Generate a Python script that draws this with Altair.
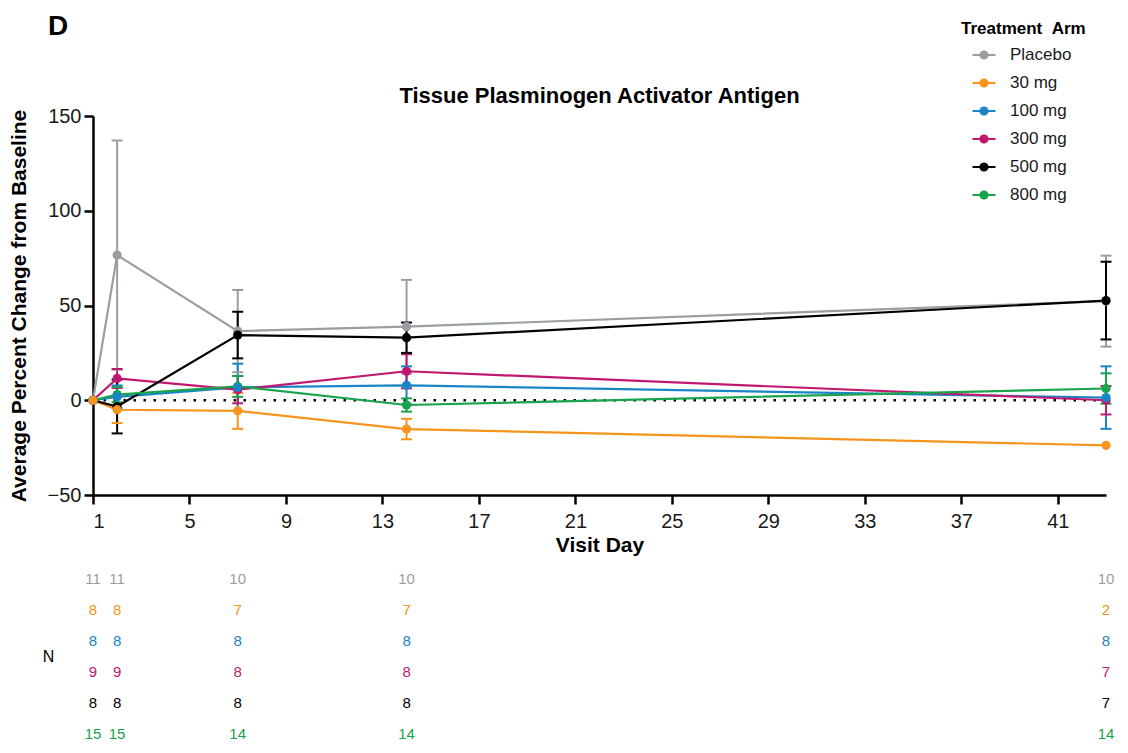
import altair as alt
import pandas as pd

# ---------------- data ----------------
days = [1, 2, 7, 14, 43]
arms = ["Placebo", "30 mg", "100 mg", "300 mg", "500 mg", "800 mg"]
arm_colors = ["#9a9ea2", "#f7941d", "#1a85c6", "#c0186e", "#000000", "#18a34c"]
draw_rank = [0, 5, 4, 3, 2, 1]  # Placebo drawn first, 30 mg last

mean_placebo = [0, 76.6, 36.5, 38.8, 52.3]
err_placebo = [0, 60.5, 21.7, 24.7, 24.0]
mean_30 = [0, -5.0, -5.6, -15.2, -23.8]
err_30 = [0, 7.0, 9.5, 5.4, 0]
mean_100 = [0, 1.8, 6.8, 7.9, 1.4]
err_100 = [0, 6.0, 12.5, 10.0, 16.5]
mean_300 = [0, 11.5, 5.6, 15.3, 0.0]
err_300 = [0, 5.0, 7.2, 9.0, 7.5]
mean_500 = [0, -3.3, 34.4, 33.0, 52.6]
err_500 = [0, 14.2, 12.3, 8.0, 20.5]
mean_800 = [0, 3.0, 7.3, -2.5, 6.2]
err_800 = [0, 4.0, 5.5, 3.5, 8.0]

n_placebo = [11, 11, 10, 10, 10]
n_30 = [8, 8, 7, 7, 2]
n_100 = [8, 8, 8, 8, 8]
n_300 = [9, 9, 8, 8, 7]
n_500 = [8, 8, 8, 8, 7]
n_800 = [15, 15, 14, 14, 14]

x_ticks = [1, 5, 9, 13, 17, 21, 25, 29, 33, 37, 41]
y_ticks = [-50, 0, 50, 100, 150]

means = [mean_placebo, mean_30, mean_100, mean_300, mean_500, mean_800]
errs = [err_placebo, err_30, err_100, err_300, err_500, err_800]
ns = [n_placebo, n_30, n_100, n_300, n_500, n_800]

rows, caps, nrows = [], [], []
for arm, rank, m, e, n in zip(arms, draw_rank, means, errs, ns):
    for d, mv, ev, nv in zip(days, m, e, n):
        rows.append({"arm": arm, "rank": rank, "day": d, "mean": mv,
                     "lo": mv - ev, "hi": mv + ev, "err": ev})
        if ev > 0:
            caps.append({"arm": arm, "rank": rank, "day": d, "cap": mv - ev})
            caps.append({"arm": arm, "rank": rank, "day": d, "cap": mv + ev})
        nrows.append({"arm": arm, "day": d, "n": nv})

df = pd.DataFrame(rows)
df_err = df[df["err"] > 0]
df_caps = pd.DataFrame(caps)
df_n = pd.DataFrame(nrows)

FONT = "Liberation Sans"
PLOT_W, PLOT_H = 1013, 379

xscale = alt.Scale(domain=[1, 43], nice=False, zero=False)
yscale = alt.Scale(domain=[-50, 150], nice=False, zero=False)
cscale = alt.Scale(domain=arms, range=arm_colors)

legend_symbol = ("M -0.394 0 L 1 0 M 0.091 0 A 0.212 0.212 0 1 1 0.515 0 "
                 "A 0.212 0.212 0 1 1 0.091 0 Z")

legend = alt.Legend(
    title="Treatment \u00a0Arm", orient="none", legendX=868, legendY=-95,
    symbolType=legend_symbol, symbolSize=1089, symbolStrokeWidth=2.2,
    symbolOpacity=1,
    labelFontSize=17, labelFont=FONT, labelColor="#1a1a1a", labelOffset=13,
    titleFontSize=17, titleFont=FONT, titleFontWeight="bold", titleColor="#000000",
    titlePadding=-1, rowPadding=2, padding=0,
)

x_enc = alt.X("day:Q", scale=xscale,
              axis=alt.Axis(values=x_ticks, title="Visit Day", labelPadding=7,
                            titlePadding=3))
y_axis = alt.Axis(values=y_ticks, title="Average Percent Change from Baseline",
                  titlePadding=18)

base = alt.Chart(df)

zero_line = alt.Chart(pd.DataFrame({"zero": [0]})).mark_rule(
    color="#000000", strokeDash=[2.5, 7.5], strokeWidth=2.5
).encode(y=alt.Y("zero:Q", scale=yscale, axis=y_axis))

bars = alt.Chart(df_err).mark_rule(strokeWidth=2, opacity=1).encode(
    x=x_enc,
    y=alt.Y("lo:Q", scale=yscale, axis=y_axis),
    y2="hi:Q",
    color=alt.Color("arm:N", scale=cscale),
)

cap_marks = alt.Chart(df_caps).mark_tick(
    orient="horizontal", size=11, thickness=2, opacity=1, fillOpacity=1
).encode(
    x=x_enc,
    y=alt.Y("cap:Q", scale=yscale, axis=y_axis),
    color=alt.Color("arm:N", scale=cscale),
)

lines = base.mark_line(strokeWidth=2.2, opacity=1).encode(
    x=x_enc,
    y=alt.Y("mean:Q", scale=yscale, axis=y_axis),
    color=alt.Color("arm:N", scale=cscale),
    detail="rank:O",
)

points = base.mark_circle(size=85, opacity=1, fillOpacity=1).encode(
    x=x_enc,
    y=alt.Y("mean:Q", scale=yscale, axis=y_axis),
    color=alt.Color("arm:N", scale=cscale, legend=legend),
    order=alt.Order("rank:Q"),
)

top = alt.layer(zero_line, bars, cap_marks, lines, points).properties(
    width=PLOT_W, height=PLOT_H,
    title=alt.TitleParams("Tissue Plasminogen Activator Antigen", fontSize=22,
                          fontWeight="bold", font=FONT, anchor="middle",
                          color="#000000", offset=-87),
)

table = alt.Chart(df_n).mark_text(fontSize=15, font=FONT, baseline="middle").encode(
    x=alt.X("day:Q", scale=xscale, axis=None),
    y=alt.Y("arm:N", sort=arms, scale=alt.Scale(domain=arms, padding=0.25),
            axis=alt.Axis(title="N", labels=False, ticks=False, domain=False,
                          titleAngle=0, titleAlign="center", titleBaseline="middle",
                          titleX=-45, titleY=85, titleFontSize=16,
                          titleFontWeight="normal", titleColor="#000000")),
    color=alt.Color("arm:N", scale=cscale, legend=None),
    text="n:Q",
).properties(width=PLOT_W, height=170.5)

chart = alt.vconcat(top, table, spacing=16).resolve_scale(
    color="independent", x="independent", y="independent"
).resolve_legend(color="independent").properties(
    title=alt.TitleParams("D", anchor="start", fontSize=28, fontWeight="bold",
                          font=FONT, color="#000000", offset=0, dx=40, dy=20),
    padding={"left": 0, "top": 5, "right": 5, "bottom": 0},
).configure_view(stroke=None).configure_axis(
    grid=False, domainColor="#000000", domainWidth=2.5, tickColor="#000000",
    tickWidth=2.5, tickSize=9, labelFontSize=20, labelFont=FONT,
    labelColor="#1a1a1a", labelPadding=3, titleFontSize=21, titleFont=FONT,
    titleFontWeight="bold", titleColor="#000000",
)

chart.save("out.html", embed_options={"renderer": "svg", "actions": False})
